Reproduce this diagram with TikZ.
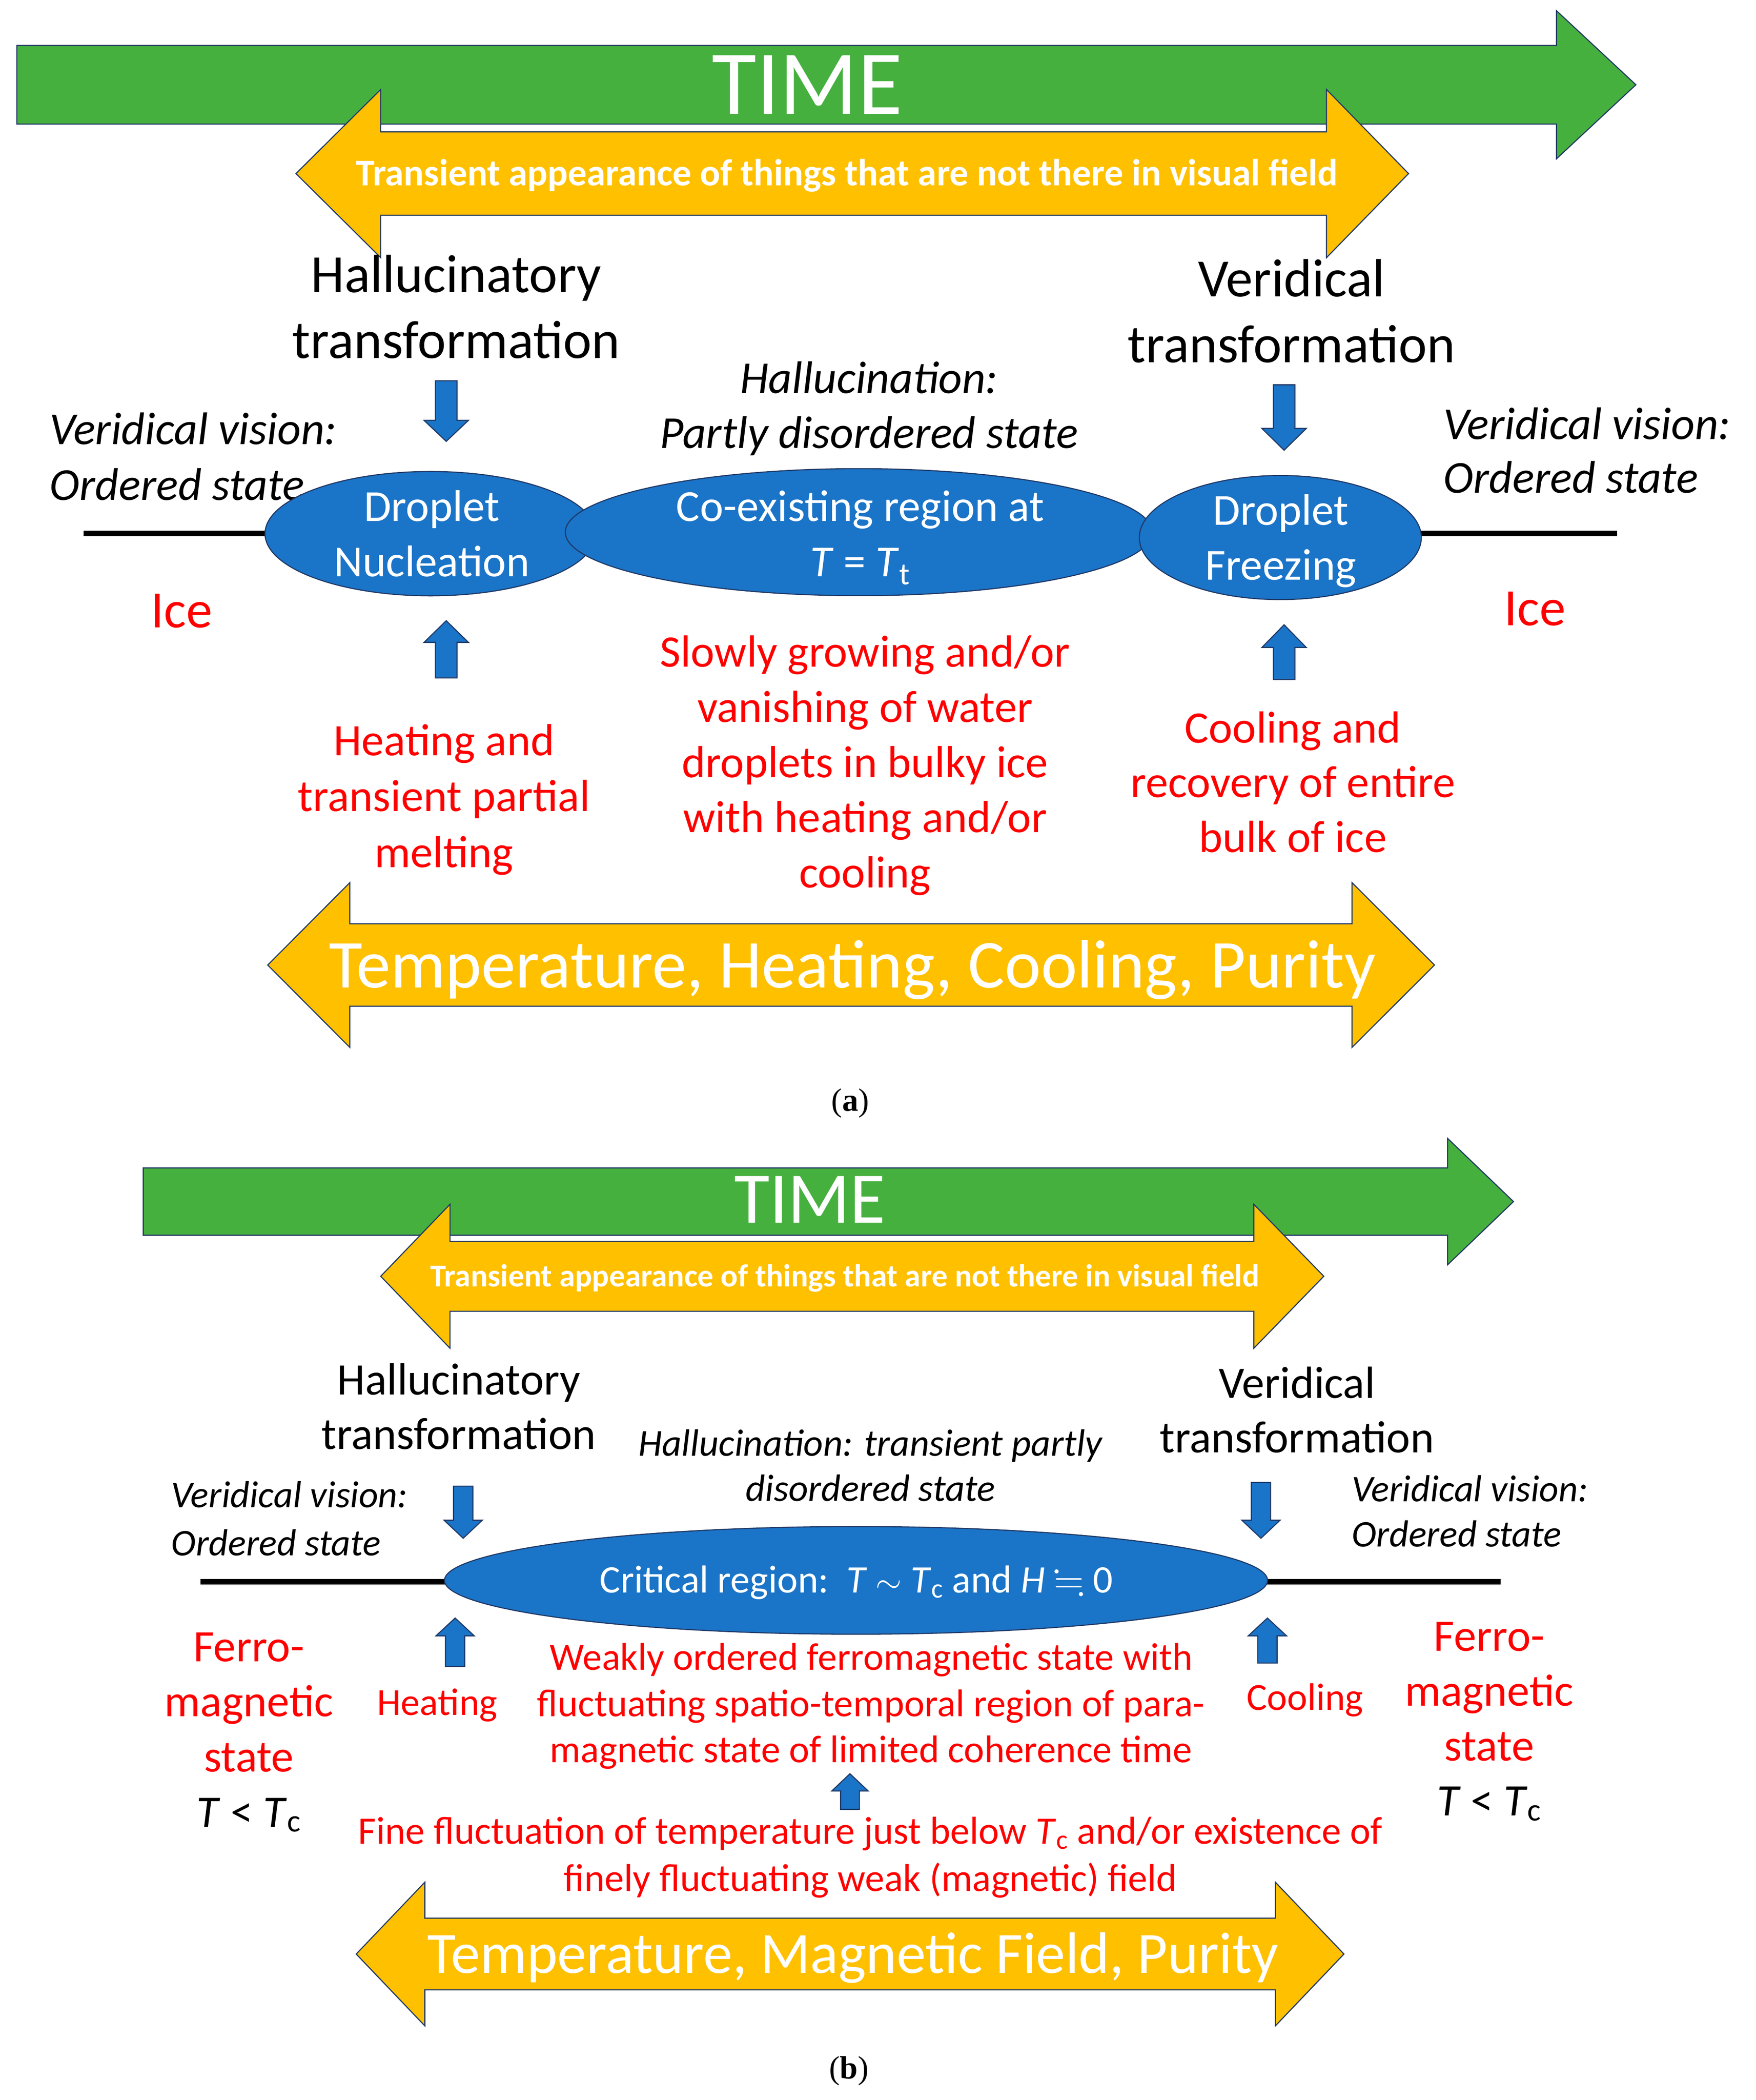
\documentclass[tikz,border=0pt]{standalone}
\usepackage{amssymb}
\usepackage{fontspec}
\setmainfont{Carlito}
\newfontfamily\capfont{Liberation Serif}
\usetikzlibrary{shapes.geometric}
\definecolor{tgreen}{RGB}{70,176,63}
\definecolor{tyellow}{RGB}{255,192,0}
\definecolor{tblue}{RGB}{26,116,200}
\definecolor{outl}{RGB}{32,56,100}
\definecolor{tred}{RGB}{255,0,0}
\newcommand\Str{\strut}
\newcommand\Tsub[1]{\textit{T}\textsubscript{#1}}
% green right arrow: xL, xbase, xtip, ymid, half body, half head
\newcommand\greenarrow[6]{%
  \filldraw[greenar] (#1,#4-#5) -- (#2,#4-#5) -- (#2,#4-#6) -- (#3,#4) -- (#2,#4+#6) -- (#2,#4+#5) -- (#1,#4+#5) -- cycle;}
% yellow double arrow: xtipL, xbaseL, xbaseR, xtipR, ymid, half body, half head
\newcommand\dblarrow[7]{%
  \filldraw[yellar] (#1,#5) -- (#2,#5-#7) -- (#2,#5-#6) -- (#3,#5-#6) -- (#3,#5-#7) -- (#4,#5) -- (#3,#5+#7) -- (#3,#5+#6) -- (#2,#5+#6) -- (#2,#5+#7) -- cycle;}
% vertical block arrow: x, ytail, yheadbase, ytip, half shaft, half head
\newcommand\varrow[6]{%
  \filldraw[bluear] (#1-#5,#2) -- (#1+#5,#2) -- (#1+#5,#3) -- (#1+#6,#3) -- (#1,#4) -- (#1-#6,#3) -- (#1-#5,#3) -- cycle;}
\tikzset{
  greenar/.style={fill=tgreen, draw=outl, line width=0.8pt, line join=miter},
  yellar/.style={fill=tyellow, draw=outl, line width=0.8pt, line join=miter},
  bluear/.style={fill=tblue, draw=outl, line width=0.8pt, line join=miter},
  blob/.style={ellipse, fill=tblue, draw=outl, line width=0.8pt, inner sep=0pt},
  axisline/.style={line width=4pt, black},
  tx/.style={inner sep=0pt, outer sep=0pt, align=center},
  txl/.style={inner sep=0pt, outer sep=0pt, align=left, anchor=west},
}
\begin{document}
\begin{tikzpicture}[x=1pt,y=-1pt]
\useasboundingbox (0,0) rectangle (1305,1560.7);

% ================= panel (a) =================
\greenarrow{12.5}{1157}{1216}{63}{29.2}{55}
\node[tx, text=white, font=\fontsize{68}{80}\selectfont] (timeA) at (600,69) {\Str TIME};
\dblarrow{220}{283}{986}{1047}{129}{31}{62.5}
\node[tx, text=white, font=\fontsize{28}{34}\selectfont\bfseries] (transA) at (629.5,131) {\Str Transient appearance of things that are not there in visual field\Str};

\node[tx, font=\fontsize{40}{49}\selectfont] (halA) at (339,232) {\Str Hallucinatory\\\Str transformation};
\node[tx, font=\fontsize{40}{49}\selectfont] (verA) at (960,235) {\Str Veridical\\\Str transformation};
\node[tx, font=\fontsize{34}{41}\selectfont\itshape] (hnA) at (646,304.5) {\Str Hallucination:\\\Str Partly disordered state};
\node[txl, font=\fontsize{34}{41.4}\selectfont\itshape] (vvLA) at (37,342.7) {\Str Veridical vision:\\\Str Ordered state};
\node[txl, font=\fontsize{34}{40}\selectfont\itshape] (vvRA) at (1073,338.4) {\Str Veridical vision:\\\Str Ordered state};

\varrow{331.7}{283}{312.4}{328}{8}{16.5}
\varrow{954.5}{286}{318.4}{334.6}{8}{16.5}

\coordinate (lineAL) at (62,396.5);
\coordinate (lineAR) at (1202,396.5);
\draw[axisline] (lineAL) -- (lineAR);
\node[blob, minimum width=246pt, minimum height=92.4pt] (nuc) at (320,396.6) {};
\node[blob, minimum width=436.4pt, minimum height=94.4pt] (coex) at (638.4,395.5) {};
\node[blob, minimum width=209.6pt, minimum height=92.2pt] (frz) at (951.7,399.5) {};
\node[tx, text=white, font=\fontsize{33}{41}\selectfont] at (321,399.7) {\Str Droplet\\\Str Nucleation};
\node[tx, text=white, font=\fontsize{33}{41}\selectfont] at (639.4,399.6) {\Str Co-existing region at\\\Str \textit{T} = \Tsub{t}};
\node[tx, text=white, font=\fontsize{33}{41}\selectfont] at (952,402.4) {\Str Droplet\\\Str Freezing};

\node[tx, text=tred, font=\fontsize{39}{47}\selectfont] (iceL) at (135,457) {\Str Ice};
\node[tx, text=tred, font=\fontsize{39}{47}\selectfont] (iceR) at (1141,455.5) {\Str Ice};

\varrow{331.7}{503.8}{477.4}{461.3}{8}{16.5}
\varrow{954.5}{505}{481.2}{464.3}{8}{16.5}

\node[tx, text=tred, font=\fontsize{33.5}{41.5}\selectfont] (heatA) at (330,594.7) {\Str Heating and\\\Str transient partial\\\Str melting};
\node[tx, text=tred, font=\fontsize{33.5}{41}\selectfont] (slowA) at (643,569.5) {\Str Slowly growing and/or\\\Str vanishing of water\\\Str droplets in bulky ice\\\Str with heating and/or\\\Str cooling};
\node[tx, text=tred, font=\fontsize{33.5}{40.5}\selectfont] (coolA) at (961,584.6) {\Str Cooling and\\\Str recovery of entire\\\Str bulk of ice};

\dblarrow{199}{260}{1005}{1066.3}{717.2}{30.65}{61.2}
\node[tx, text=white, font=\fontsize{51}{60}\selectfont] (paramA) at (633.5,722) {\Str Temperature, Heating, Cooling, Purity};

\node[tx, font=\capfont\fontsize{24}{28}\selectfont] (capA) at (632,820) {(\textbf{a})};

% ================= panel (b) =================
\greenarrow{106.5}{1076}{1125}{893}{25}{47}
\node[tx, text=white, font=\fontsize{54}{64}\selectfont] (timeB) at (602,896) {\Str TIME};
\dblarrow{283}{334.5}{932}{984}{948.5}{26}{53.5}
\node[tx, text=white, font=\fontsize{23.65}{29}\selectfont\bfseries] (transB) at (628,950.3) {\Str Transient appearance of things that are not there in visual field\Str};

\node[tx, font=\fontsize{33.5}{40.5}\selectfont] (halB) at (341,1048.8) {\Str Hallucinatory\\\Str transformation};
\node[tx, font=\fontsize{33.5}{40.5}\selectfont] (verB) at (964,1051.3) {\Str Veridical\\\Str transformation};
\node[tx, font=\fontsize{28.3}{33.5}\selectfont\itshape] (hnB) at (647,1092) {\Str Hallucination: transient partly\\\Str disordered state};
\node[txl, font=\fontsize{28}{35.7}\selectfont\itshape] (vvLB) at (127.3,1131) {\Str Veridical vision:\\\Str Ordered state};
\node[txl, font=\fontsize{28}{33.6}\selectfont\itshape] (vvRB) at (1004.8,1126) {\Str Veridical vision:\\\Str Ordered state};

\varrow{344.3}{1104.5}{1129.8}{1143.2}{7.2}{14.2}
\varrow{937.3}{1101.7}{1129.8}{1143.2}{7.2}{14.2}

\coordinate (lineBL) at (148.9,1175.5);
\coordinate (lineBR) at (1115.3,1175.5);
\draw[axisline] (lineBL) -- (lineBR);
\node[blob, minimum width=611.8pt, minimum height=80pt] (crit) at (636.3,1174.5) {};
\node[tx, text=white, font=\fontsize{29}{35}\selectfont] at (636.5,1176.7) {\Str Critical region:\ \ \textit{T} $\sim$ \Tsub{c} and \textit{H} $\fallingdotseq$ 0};

\varrow{338.3}{1238.5}{1215.7}{1202.5}{7.2}{14.2}
\varrow{942.1}{1236}{1215.7}{1202.5}{7.2}{14.2}

\node[tx, text=tred, font=\fontsize{33.5}{41}\selectfont] (ferL) at (185,1288) {\Str Ferro-\\\Str magnetic\\\Str state\\\Str\color{black}\textit{T} < \Tsub{c}};
\node[tx, text=tred, font=\fontsize{33.5}{40.8}\selectfont] (ferR) at (1107,1280) {\Str Ferro-\\\Str magnetic\\\Str state\\\Str\color{black}\textit{T} < \Tsub{c}};
\node[tx, text=tred, font=\fontsize{28.5}{34}\selectfont] (heatB) at (325,1268) {\Str Heating};
\node[tx, text=tred, font=\fontsize{28.5}{34}\selectfont] (coolB) at (970,1264) {\Str Cooling};
\node[tx, text=tred, font=\fontsize{28.7}{34.3}\selectfont] (weakB) at (647.5,1268.7) {\Str Weakly ordered ferromagnetic state with\\\Str fluctuating spatio-temporal region of para-\\\Str magnetic state of limited coherence time};

\varrow{631.8}{1344.7}{1331}{1318.2}{7}{13.5}

\node[tx, text=tred, font=\fontsize{28.9}{35}\selectfont] (fineB) at (647,1381) {\Str Fine fluctuation of temperature just below \Tsub{c} and/or existence of\\\Str finely fluctuating weak (magnetic) field};

\dblarrow{264.8}{315.8}{948}{999}{1452.2}{26.65}{53.4}
\node[tx, text=white, font=\fontsize{43.5}{52}\selectfont] (paramB) at (634,1456) {\Str Temperature, Magnetic Field, Purity};

\node[tx, font=\capfont\fontsize{24}{28}\selectfont] (capB) at (631,1539) {(\textbf{b})};
\end{tikzpicture}
\end{document}
